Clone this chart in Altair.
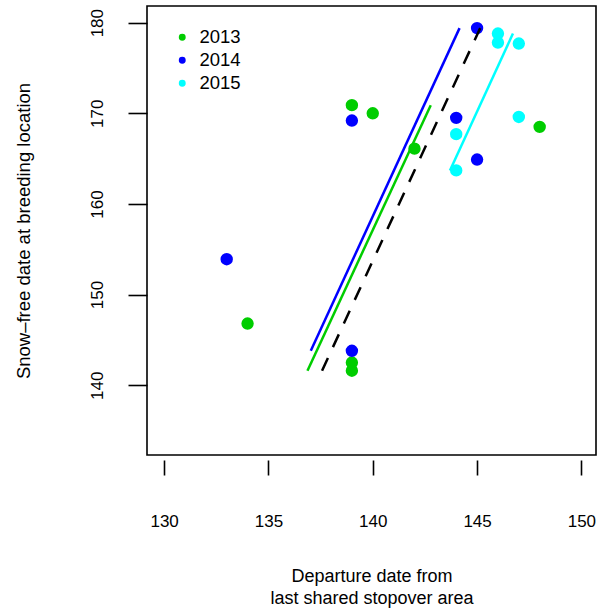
import altair as alt
import pandas as pd

# ---- data ----
years = ["2013"] * 7 + ["2014"] * 6 + ["2015"] * 6
departure = [139, 140, 142, 148, 134, 139, 139,
             145, 139, 144, 145, 133, 139,
             146, 146, 147, 147, 144, 144]
snowfree = [170.9, 170.0, 166.1, 168.5, 146.8, 142.5, 141.6,
            179.4, 169.2, 169.5, 164.9, 153.9, 143.8,
            178.8, 177.8, 177.7, 169.6, 167.7, 163.7]

fit_year = ["2013", "2013", "2014", "2014", "2015", "2015"]
fit_x = [136.87, 142.78, 137.03, 144.16, 143.70, 146.72]
fit_y = [141.6, 170.9, 143.8, 179.4, 163.7, 178.8]

all_x = [137.57, 145.15]
all_y = [141.6, 179.4]

year_levels = ["2013", "2014", "2015"]
year_colors = ["#00CD00", "#0000FF", "#00FFFF"]
x_ticks = [130, 135, 140, 145, 150]
y_ticks = [140, 150, 160, 170, 180]

pts = pd.DataFrame({"year": years, "dep": departure, "snow": snowfree})
fits = pd.DataFrame({"year": fit_year, "dep": fit_x, "snow": fit_y})
overall = pd.DataFrame({"dep": all_x, "snow": all_y})

FONT = "Liberation Sans"

xscale = alt.Scale(domain=[129.18, 150.7], nice=False, zero=False)
yscale = alt.Scale(domain=[132.3, 181.84], nice=False, zero=False)
cscale = alt.Scale(domain=year_levels, range=year_colors)

xaxis = alt.Axis(
    values=x_ticks, grid=False, domain=False, ticks=True, tickSize=15,
    tickWidth=1.6, tickColor="black", offset=5,
    labelFont=FONT, labelFontSize=17, labelColor="black",
    labelBaseline="middle", labelPadding=46, labelAlign="center",
    title=["Departure date from", "last shared stopover area"],
    titleFont=FONT, titleFontSize=18, titleFontWeight="normal", titleColor="black",
    titleX=224.5, titleY=107, titleBaseline="top", titleAlign="center",
    titleLineHeight=22, labelFlush=False,
)
yaxis = alt.Axis(
    values=y_ticks, grid=False, domain=False, ticks=True, tickSize=19,
    tickWidth=1.6, tickColor="black",
    labelFont=FONT, labelFontSize=17, labelColor="black",
    labelAngle=270, labelAlign="center", labelBaseline="middle", labelPadding=31,
    title="Snow\u2013free date at breeding location",
    titleFont=FONT, titleFontSize=18.5, titleFontWeight="normal", titleColor="black",
    titleAngle=270, titleX=-124, titleY=224.5, titleAlign="center",
    titleBaseline="middle", labelFlush=False,
)

points = alt.Chart(pts).mark_circle(size=154, opacity=1).encode(
    x=alt.X("dep:Q", scale=xscale, axis=xaxis),
    y=alt.Y("snow:Q", scale=yscale, axis=yaxis),
    color=alt.Color(
        "year:N", scale=cscale,
        legend=alt.Legend(
            title=None, orient="none", legendX=26, legendY=22,
            symbolType="circle", symbolSize=48, symbolStrokeWidth=0,
            symbolOpacity=1, labelFont=FONT, labelFontSize=18.5,
            labelColor="black", labelOffset=8, rowPadding=4, padding=0,
        ),
    ),
)

lines = alt.Chart(fits).mark_line(strokeWidth=2.5).encode(
    x="dep:Q", y="snow:Q",
    color=alt.Color("year:N", scale=cscale, legend=None),
    detail="year:N",
)

dashed = alt.Chart(overall).mark_line(
    strokeWidth=2.5, color="black", strokeDash=[14, 12]
).encode(x="dep:Q", y="snow:Q")

chart = alt.layer(points, lines, dashed).properties(
    width=449, height=449,
    padding={"left": 147, "top": 6, "right": 2, "bottom": 154},
    autosize=alt.AutoSizeParams(type="none"),
    background="white",
).configure_view(stroke="black", strokeWidth=1.6)

chart.save("out.html", embed_options={"renderer": "svg", "actions": False})
